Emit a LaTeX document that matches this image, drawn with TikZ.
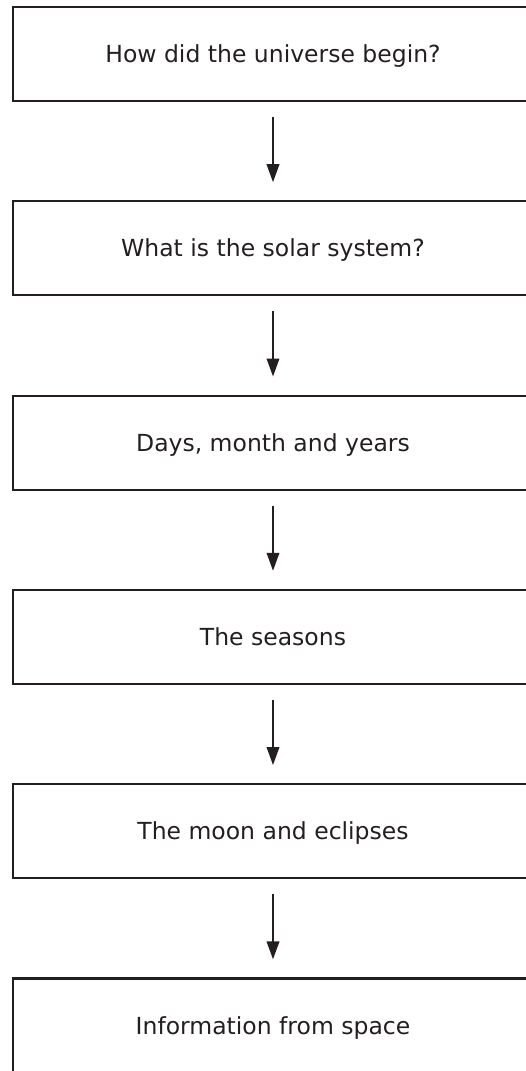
\documentclass[tikz,border=0pt]{standalone}
\usepackage{fontspec}
\setmainfont{DejaVu Sans}
\usetikzlibrary{arrows.meta}

\definecolor{ink}{HTML}{231F20}

\tikzset{
  topic/.style={draw=ink, line width=2.2pt, minimum width=520pt, minimum height=94pt,
    text=ink, font=\fontsize{23.5}{26}\selectfont, text height=17.1pt, text depth=0pt},
  flow/.style={draw=ink, line width=2pt, -{Triangle[width=12.5pt,length=18pt]},
    shorten <=15pt, shorten >=18pt}
}

\begin{document}
\begin{tikzpicture}[x=1pt,y=-1pt]
\path[use as bounding box, clip] (0,0) rectangle (526,1071);
\node[topic] (t1) at (273,54) {How did the universe begin?};
\node[topic] (t2) at (273,248.3) {What is the solar system?};
\node[topic] (t3) at (273,442.6) {Days, month and years};
\node[topic] (t4) at (273,636.9) {The seasons};
\node[topic] (t5) at (273,831.2) {The moon and eclipses};
\node[topic] (t6) at (273,1025.5) {Information from space};
\foreach \a/\b in {t1/t2,t2/t3,t3/t4,t4/t5,t5/t6}
  \draw[flow] (\a) -- (\b);
\end{tikzpicture}
\end{document}
